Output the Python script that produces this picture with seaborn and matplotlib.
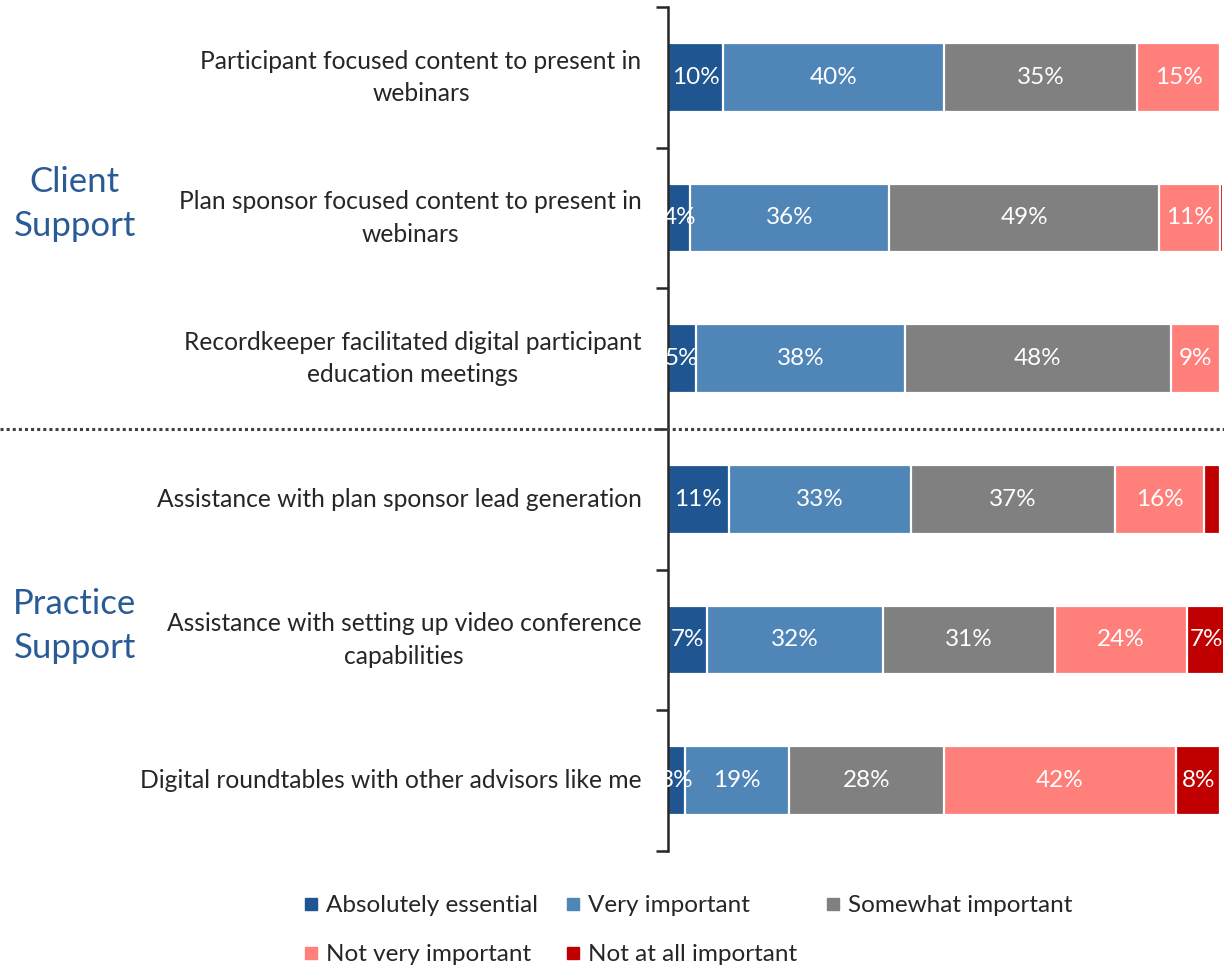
import numpy as np
import pandas as pd
import seaborn as sns
import matplotlib.pyplot as plt
from matplotlib.lines import Line2D
from matplotlib.transforms import blended_transform_factory

# Survey items, top to bottom
items = [
    "Participant focused content to present in\nwebinars",
    "Plan sponsor focused content to present in\nwebinars",
    "Recordkeeper facilitated digital participant\neducation meetings",
    "Assistance with plan sponsor lead generation",
    "Assistance with setting up video conference\ncapabilities",
    "Digital roundtables with other advisors like me",
]
groups = ["Client\nSupport", "Practice\nSupport"]

levels = ["Absolutely essential", "Very important", "Somewhat important",
          "Not very important", "Not at all important"]
absolutely_essential = [10, 4, 5, 11, 7, 3]
very_important = [40, 36, 38, 33, 32, 19]
somewhat_important = [35, 49, 48, 37, 31, 28]
not_very_important = [15, 11, 9, 16, 24, 42]
not_at_all_important = [0, 0.5, 0, 3, 7, 8]

colors = ["#1F5591", "#5085B8", "#808080", "#FF7F7B", "#C00000"]

sns.set_theme(style="white")
plt.rcParams["font.family"] = ["Lato", "DejaVu Sans"]

series = [absolutely_essential, very_important, somewhat_important,
          not_very_important, not_at_all_important]
df = pd.DataFrame(dict(zip(levels, series)), index=items)
cum = df.cumsum(axis=1)

fig = plt.figure(figsize=(12.24, 9.66), dpi=100)
ax = fig.add_axes([668 / 1224, 1 - 851 / 966, 555 / 1224, 844 / 966])

# Stacked bars: draw cumulative totals from the outermost segment inward
for lvl, col in reversed(list(zip(levels, colors))):
    sns.barplot(x=cum[lvl].values, y=list(range(len(items))), orient="h",
                color=col, width=0.49, edgecolor="white", linewidth=1.6,
                saturation=1, ax=ax, native_scale=True)

# Value labels centred in each segment (the thin "not at all" slivers stay unlabelled)
for lvl in levels:
    centers = cum[lvl] - df[lvl] / 2
    min_label = 5 if lvl == "Not at all important" else 1
    for i, (v, c) in enumerate(zip(df[lvl], centers)):
        if v >= min_label:
            ax.text(c, i, f"{v:.0f}%", ha="center", va="center",
                    color="white", fontsize=17.5)

ax.set_xlim(0, 100.5)
ax.set_ylim(len(items) - 0.5, -0.5)
ax.set_xlabel("")
ax.set_ylabel("")
ax.set_xticks([])

# Boundary ticks with marks, item labels on unmarked minor ticks
ax.set_yticks(np.arange(-0.5, len(items)), labels=[""] * (len(items) + 1))
ax.set_yticks(np.arange(len(items)), minor=True)
ax.set_yticklabels(items, minor=True, fontsize=17.7, color="#262626",
                   ha="right", va="center", multialignment="center",
                   linespacing=1.5)
ax.tick_params(axis="y", which="major", length=9, width=1.8, color="#262626",
               direction="out", left=True)
ax.tick_params(axis="y", which="minor", length=0, pad=19)

for s in ["top", "right", "bottom"]:
    ax.spines[s].set_visible(False)
ax.spines["left"].set_color("#262626")
ax.spines["left"].set_linewidth(1.8)

# Group labels and dotted separator across the figure
trans = blended_transform_factory(fig.transFigure, ax.transData)
ax.text(0.061, 0.9, groups[0], transform=trans, ha="center", va="center",
        fontsize=25, color="#2A5B97", linespacing=1.45)
ax.text(0.061, 3.9, groups[1], transform=trans, ha="center", va="center",
        fontsize=25, color="#2A5B97", linespacing=1.45)
sep = Line2D([0, 1], [2.5, 2.5], transform=trans, color="#404040",
             linestyle=(0, (1, 1)), linewidth=2.2, clip_on=False)
fig.add_artist(sep)

# Legend laid out row by row
handles = [Line2D([], [], marker="s", linestyle="none", markersize=8.5,
                  markerfacecolor=c, markeredgecolor=c, label=l)
           for l, c in zip(levels, colors)]
order = [0, 3, 1, 4, 2]
leg = fig.legend([handles[i] for i in order], [levels[i] for i in order],
                 loc="upper left", bbox_to_anchor=(304.5 / 1224, 1 - 895 / 966),
                 ncol=3, frameon=False, fontsize=17.5, handlelength=0.5,
                 handletextpad=0.38, columnspacing=1.2, labelspacing=1.17,
                 borderpad=0, borderaxespad=0)
for t in leg.get_texts():
    t.set_color("#262626")

fig.savefig("out.png", dpi=100, facecolor="white")
